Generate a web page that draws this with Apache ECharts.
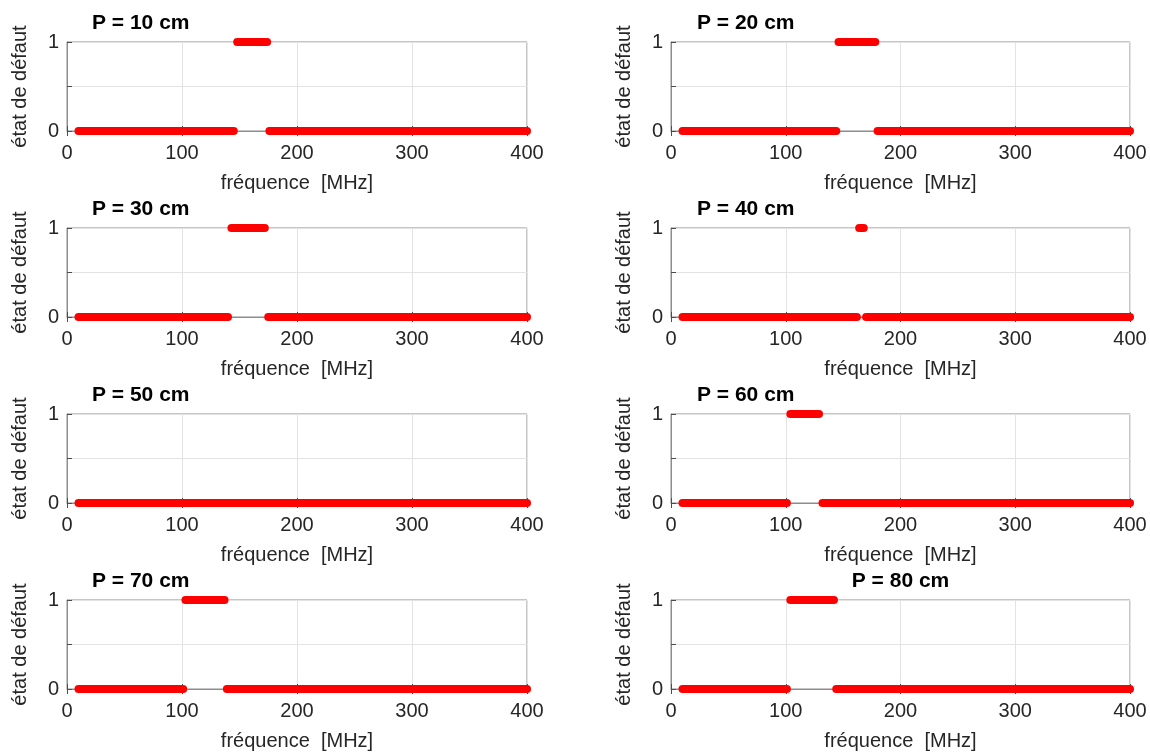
<!DOCTYPE html>
<html>
<head>
<meta charset="utf-8">
<script src="https://cdn.jsdelivr.net/npm/echarts@6/dist/echarts.min.js"></script>
<style>
html,body{margin:0;padding:0;background:#fff;}
#main{width:1150px;height:752px;}
</style>
</head>
<body>
<div id="main"></div>
<script>
// Panel titles
const titles = ['P = 10 cm', 'P = 20 cm', 'P = 30 cm', 'P = 40 cm', 'P = 50 cm', 'P = 60 cm', 'P = 70 cm', 'P = 80 cm'];
// Segments of constant fault state: [start MHz, end MHz, state]
const p10 = [[10, 145, 0], [148, 174, 1], [176, 400, 0]];
const p20 = [[10, 144, 0], [146, 178, 1], [180, 400, 0]];
const p30 = [[10, 140, 0], [143, 172, 1], [175, 400, 0]];
const p40 = [[10, 162, 0], [164, 168, 1], [170, 400, 0]];
const p50 = [[10, 400, 0]];
const p60 = [[10, 101, 0], [104, 129, 1], [132, 400, 0]];
const p70 = [[10, 101, 0], [103, 137, 1], [139, 400, 0]];
const p80 = [[10, 101, 0], [104, 142, 1], [144, 400, 0]];
const panels = [p10, p20, p30, p40, p50, p60, p70, p80];
// Axis ticks
const xTicks = [0, 100, 200, 300, 400];
const yTickLabels = ['0', '1'];
const xName = 'fréquence  [MHz]';
const yName = 'état de défaut';

const FONT = 'Liberation Sans, Arial, sans-serif';
const TXT = '#262626';
const colLeft = [67, 671];
const colWidth = [460, 459];
const rowTop = [42, 228, 414, 600];
const plotH = 89;

const grids = [], xAxes = [], yAxes = [], series = [], titleArr = [];
panels.forEach((segs, i) => {
  const col = i % 2, row = Math.floor(i / 2);
  grids.push({
    left: colLeft[col], top: rowTop[row], width: colWidth[col], height: plotH,
    show: true, borderColor: '#8c8c8c', borderWidth: 1, backgroundColor: 'transparent'
  });
  xAxes.push({
    type: 'value', gridIndex: i, min: xTicks[0], max: xTicks[xTicks.length - 1], interval: 100,
    position: 'bottom',
    axisLine: {show: true, onZero: false, lineStyle: {color: '#8c8c8c', width: 1}},
    axisTick: {show: true, inside: true, length: 5, lineStyle: {color: '#4d4d4d'}},
    axisLabel: {color: TXT, fontSize: 20, fontFamily: FONT, margin: 12},
    splitLine: {show: true, lineStyle: {color: '#e3e3e3', width: 1}},
    name: xName, nameLocation: 'middle', nameGap: 42,
    nameTextStyle: {color: TXT, fontSize: 20, fontFamily: FONT}
  });
  xAxes.push({
    type: 'value', gridIndex: i, min: 0, max: 400, interval: 100, position: 'top',
    axisLine: {show: false}, axisLabel: {show: false}, splitLine: {show: false},
    axisTick: {show: true, inside: true, length: 5, lineStyle: {color: '#4d4d4d'}}
  });
  yAxes.push({
    type: 'value', gridIndex: i, min: 0, max: 1, interval: 0.5,
    axisLine: {show: true, lineStyle: {color: '#8c8c8c', width: 1}},
    axisTick: {show: true, inside: true, length: 5, lineStyle: {color: '#4d4d4d'}},
    axisLabel: {color: TXT, fontSize: 20, fontFamily: FONT, margin: 8,
      formatter: v => v === 0 ? yTickLabels[0] : (v === 1 ? yTickLabels[1] : '')},
    splitLine: {show: true, lineStyle: {color: '#e3e3e3', width: 1}},
    name: yName, nameLocation: 'middle', nameGap: 37, nameRotate: 90,
    nameTextStyle: {color: TXT, fontSize: 20, fontFamily: FONT}
  });
  segs.forEach(s => {
    series.push({
      type: 'line', xAxisIndex: 2 * i, yAxisIndex: i,
      data: [[s[0], s[2]], [s[1], s[2]]],
      showSymbol: false, symbol: 'none', clip: false, silent: true,
      lineStyle: {color: '#ff0000', width: 8, cap: 'round'}
    });
  });
  const centered = (i === 7);
  titleArr.push({
    text: titles[i],
    left: centered ? (colLeft[col] + colWidth[col] / 2) : (col === 0 ? 92 : 697),
    textAlign: centered ? 'center' : 'left',
    top: rowTop[row] - 29,
    padding: 0,
    textStyle: {color: '#000', fontSize: 21, fontWeight: 'bold', fontFamily: FONT}
  });
});

const chart = echarts.init(document.getElementById('main'), null, {renderer: 'canvas'});
chart.setOption({
  animation: false,
  backgroundColor: '#fff',
  title: titleArr,
  grid: grids,
  xAxis: xAxes,
  yAxis: yAxes,
  series: series
});
</script>
</body>
</html>
